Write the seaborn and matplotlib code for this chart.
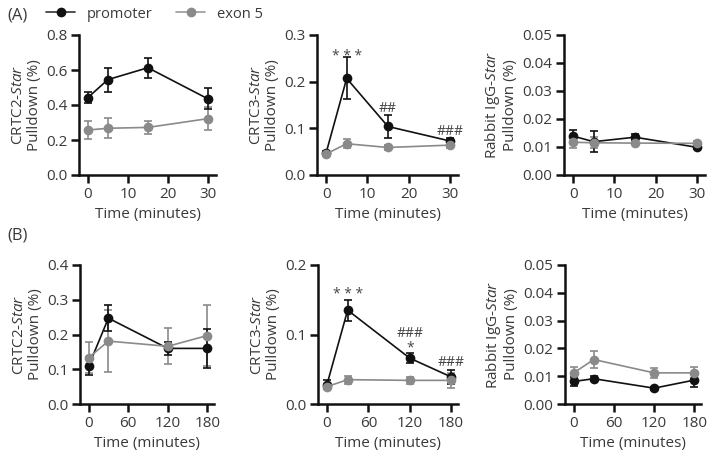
import numpy as np
import pandas as pd
import matplotlib
matplotlib.use("Agg")
import matplotlib.pyplot as plt
import seaborn as sns

# Time points
time_a = [0, 5, 15, 30]
time_b = [0, 30, 120, 180]

# Panel A (minutes 0-30): mean and error for promoter / exon 5
a_crtc2_prom = [0.442, 0.545, 0.613, 0.435]
a_crtc2_prom_err = [0.03, 0.068, 0.057, 0.06]
a_crtc2_exon = [0.257, 0.267, 0.272, 0.322]
a_crtc2_exon_err = [0.052, 0.056, 0.038, 0.066]

a_crtc3_prom = [0.047, 0.207, 0.104, 0.073]
a_crtc3_prom_err = [0.004, 0.045, 0.024, 0.006]
a_crtc3_exon = [0.045, 0.067, 0.059, 0.064]
a_crtc3_exon_err = [0.003, 0.01, 0.005, 0.006]

a_igg_prom = [0.0139, 0.0119, 0.0135, 0.0099]
a_igg_prom_err = [0.0022, 0.0038, 0.001, 0.0005]
a_igg_exon = [0.0117, 0.0115, 0.0114, 0.0113]
a_igg_exon_err = [0.002, 0.002, 0.0005, 0.001]

# Panel B (minutes 0-180)
b_crtc2_prom = [0.109, 0.247, 0.16, 0.16]
b_crtc2_prom_err = [0.025, 0.038, 0.018, 0.057]
b_crtc2_exon = [0.133, 0.181, 0.166, 0.197]
b_crtc2_exon_err = [0.045, 0.09, 0.052, 0.087]

b_crtc3_prom = [0.028, 0.135, 0.066, 0.039]
b_crtc3_prom_err = [0.006, 0.015, 0.007, 0.01]
b_crtc3_exon = [0.025, 0.035, 0.034, 0.034]
b_crtc3_exon_err = [0.004, 0.006, 0.005, 0.011]

b_igg_prom = [0.0081, 0.0091, 0.0057, 0.0086]
b_igg_prom_err = [0.0015, 0.001, 0.0005, 0.0025]
b_igg_exon = [0.0112, 0.016, 0.0112, 0.0112]
b_igg_exon_err = [0.002, 0.003, 0.0018, 0.002]

sns.set_style("ticks")
plt.rcParams["font.family"] = ["Open Sans", "DejaVu Sans"]
plt.rcParams["mathtext.fontset"] = "custom"
plt.rcParams["mathtext.rm"] = "Open Sans"
plt.rcParams["mathtext.it"] = "Open Sans:italic"

TXT = "#3a3a3a"
PROM = "#111111"
EXON = "#8a8a8a"

fig = plt.figure(figsize=(7.09, 4.58), dpi=100)

W, H = 709, 458
def add_ax(left, top, right, bottom):
    return fig.add_axes([left / W, 1 - bottom / H, (right - left) / W, (bottom - top) / H])

axes = {
    "a1": add_ax(79, 35, 216, 175),
    "a2": add_ax(317, 35, 458, 175),
    "a3": add_ax(564, 35, 705, 175),
    "b1": add_ax(80, 265, 214, 404),
    "b2": add_ax(318, 265, 458, 404),
    "b3": add_ax(565, 265, 701, 404),
}

panels = [
    ("a1", time_a, a_crtc2_prom, a_crtc2_prom_err, a_crtc2_exon, a_crtc2_exon_err, "CRTC2", 0.8, [0, 0.2, 0.4, 0.6, 0.8], "{:.1f}"),
    ("a2", time_a, a_crtc3_prom, a_crtc3_prom_err, a_crtc3_exon, a_crtc3_exon_err, "CRTC3", 0.3, [0, 0.1, 0.2, 0.3], "{:.1f}"),
    ("a3", time_a, a_igg_prom, a_igg_prom_err, a_igg_exon, a_igg_exon_err, "Rabbit IgG", 0.05, [0, 0.01, 0.02, 0.03, 0.04, 0.05], "{:.2f}"),
    ("b1", time_b, b_crtc2_prom, b_crtc2_prom_err, b_crtc2_exon, b_crtc2_exon_err, "CRTC2", 0.4, [0, 0.1, 0.2, 0.3, 0.4], "{:.1f}"),
    ("b2", time_b, b_crtc3_prom, b_crtc3_prom_err, b_crtc3_exon, b_crtc3_exon_err, "CRTC3", 0.2, [0, 0.1, 0.2], "{:.1f}"),
    ("b3", time_b, b_igg_prom, b_igg_prom_err, b_igg_exon, b_igg_exon_err, "Rabbit IgG", 0.05, [0, 0.01, 0.02, 0.03, 0.04, 0.05], "{:.2f}"),
]

for key, t, prom, prom_err, exon, exon_err, name, ymax, yticks, fmt in panels:
    ax = axes[key]
    df = pd.DataFrame({
        "time": t + t,
        "value": prom + exon,
        "err": prom_err + exon_err,
        "site": ["promoter"] * len(t) + ["exon 5"] * len(t),
    })
    # error bars first, then the lines with markers on top
    for site, col, z in [("exon 5", EXON, 2), ("promoter", PROM, 3)]:
        sub = df[df["site"] == site]
        ax.errorbar(sub["time"], sub["value"], yerr=sub["err"], fmt="none",
                    ecolor=col, elinewidth=1.2, capsize=3, capthick=1.2, zorder=z)
    sns.lineplot(data=df, x="time", y="value", hue="site", hue_order=["promoter", "exon 5"],
                 palette={"promoter": PROM, "exon 5": EXON}, marker="o", markersize=7,
                 markeredgewidth=0, linewidth=1.2, errorbar=None, ax=ax, zorder=4)
    ax.get_legend().remove()
    ax.set_ylim(0, ymax)
    ax.set_yticks(yticks)
    ax.set_yticklabels([fmt.format(v) for v in yticks])
    if key.startswith("a"):
        ax.set_xlim(-2.2, 32)
        ax.set_xticks([0, 10, 20, 30])
    else:
        ax.set_xlim(-13, 190)
        ax.set_xticks([0, 60, 120, 180])
    ax.set_xlabel("Time (minutes)", fontsize=11, color=TXT, labelpad=4)
    ax.set_ylabel(name + r"-$\mathit{Star}$" + "\nPulldown (%)", fontsize=11, color=TXT,
                  labelpad=3, linespacing=1.1)
    for s in ["top", "right"]:
        ax.spines[s].set_visible(False)
    for s in ["left", "bottom"]:
        ax.spines[s].set_linewidth(1.8)
        ax.spines[s].set_color("#111111")
    ax.tick_params(axis="both", length=6, width=1.8, color="#111111", labelsize=11, labelcolor=TXT, pad=2.5)
    for art in ax.get_children():
        try:
            art.set_clip_on(False)
        except Exception:
            pass

# significance marks
ann_kw = dict(ha="center", va="center", color="#444444", fontsize=10)
axes["a2"].text(5, 0.254, "* * *", **ann_kw)
axes["a2"].text(15, 0.143, "##", **ann_kw)
axes["a2"].text(30, 0.094, "###", **ann_kw)
axes["b2"].text(30, 0.158, "* * *", **ann_kw)
axes["b2"].text(120, 0.101, "###", **ann_kw)
axes["b2"].text(120, 0.080, "*", **ann_kw)
axes["b2"].text(180, 0.060, "###", **ann_kw)

# panel labels
fig.text(7 / W, 1 - 15 / H, "(A)", fontsize=12, color=TXT, va="center", ha="left")
fig.text(7 / W, 1 - 236 / H, "(B)", fontsize=12, color=TXT, va="center", ha="left")

# legend
handles = [
    plt.Line2D([], [], color="#333333", lw=1.2, marker="o", markersize=7, markerfacecolor=PROM, markeredgewidth=0),
    plt.Line2D([], [], color="#9a9a9a", lw=1.2, marker="o", markersize=7, markerfacecolor=EXON, markeredgewidth=0),
]
fig.legend(handles, ["promoter", "exon 5"], loc="center left", bbox_to_anchor=(33 / W, 1 - 14 / H),
           ncol=2, frameon=False, fontsize=10.5, handlelength=2.0, columnspacing=1.6,
           labelcolor=TXT, handletextpad=0.8)

fig.savefig("out.png", dpi=100)
